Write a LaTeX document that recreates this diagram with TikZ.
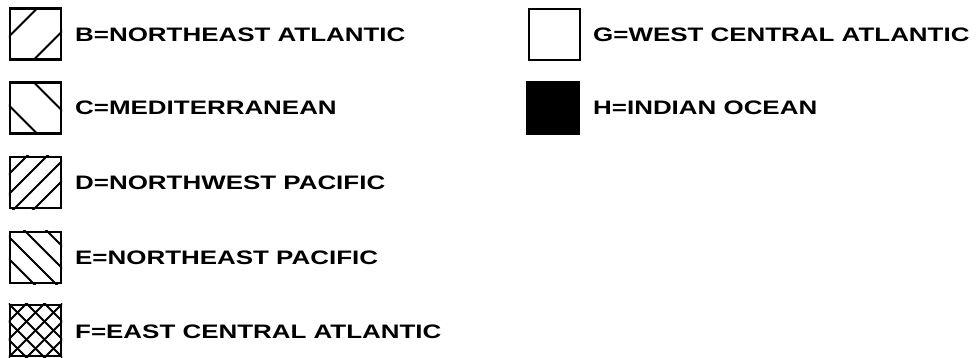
\documentclass[tikz,border=0pt]{standalone}
\usepackage{fontspec}
\usetikzlibrary{calc}
\setmainfont{Liberation Sans}[FakeStretch=1.33]
\begin{document}
\begin{tikzpicture}[x=1pt,y=-1pt,
  swatch/.style={draw=black,line width=2.4pt,minimum width=51pt,minimum height=51pt,inner sep=0pt},
  hatch/.style={line width=2pt,line cap=round},
  lab/.style={anchor=west,inner sep=0pt,font=\fontsize{19.5}{20}\selectfont\bfseries}]
\useasboundingbox (0,0) rectangle (979,357);
\fill[white] (0,0) rectangle (979,357);
% swatches
\node[swatch] (b) at (35.5,34) {};
\node[swatch] (c) at (35.5,108) {};
\node[swatch] (d) at (35.5,182.5) {};
\node[swatch] (e) at (35.5,257.5) {};
\node[swatch] (f) at (35.5,330.5) {};
\node[swatch] (g) at (554.5,34.5) {};
\node[swatch,fill=black] (h) at (553,108) {};
% hatching
\begin{scope}
  \clip (b.south west) rectangle (b.north east);
  \foreach \k in {-24,24} \draw[hatch] ($(b.center)+(-40+\k/2,40+\k/2)$) -- ++(80,-80);
\end{scope}
\begin{scope}
  \clip (c.south west) rectangle (c.north east);
  \foreach \k in {-24,24} \draw[hatch] ($(c.center)+(-40-\k/2,-40+\k/2)$) -- ++(80,80);
\end{scope}
\begin{scope}
  \clip (d.south west) rectangle (d.north east);
  \foreach \k in {-35,-15,5,25} \draw[hatch] ($(d.center)+(-40+\k/2,40+\k/2)$) -- ++(80,-80);
\end{scope}
\begin{scope}
  \clip (e.south west) rectangle (e.north east);
  \foreach \k in {-38,-16,6,28} \draw[hatch] ($(e.center)+(-40-\k/2,-40+\k/2)$) -- ++(80,80);
\end{scope}
\begin{scope}
  \clip (f.south west) rectangle (f.north east);
  \foreach \k in {-54,-36,-18,0,18,36,54} {
    \draw[hatch,line width=1.8pt] ($(f.center)+(-40+\k/2,40+\k/2)$) -- ++(80,-80);
    \draw[hatch,line width=1.8pt] ($(f.center)+(-40-\k/2,-40+\k/2)$) -- ++(80,80);
  }
\end{scope}
\node[swatch] at (b) {};
\node[swatch] at (c) {};
\node[swatch] at (d) {};
\node[swatch] at (e) {};
\node[swatch] at (f) {};
% labels
\node[lab] (lb) at (75,34.5) {B=NORTHEAST ATLANTIC};
\node[lab] (lc) at (75,108) {C=MEDITERRANEAN};
\node[lab] (ld) at (75,182.5) {D=NORTHWEST PACIFIC};
\node[lab] (le) at (75,257.5) {E=NORTHEAST PACIFIC};
\node[lab] (lf) at (75,331.5) {F=EAST CENTRAL ATLANTIC};
\node[lab] (lg) at (593,34.5) {G=WEST CENTRAL ATLANTIC};
\node[lab] (lh) at (593,108) {H=INDIAN OCEAN};
\end{tikzpicture}
\end{document}
